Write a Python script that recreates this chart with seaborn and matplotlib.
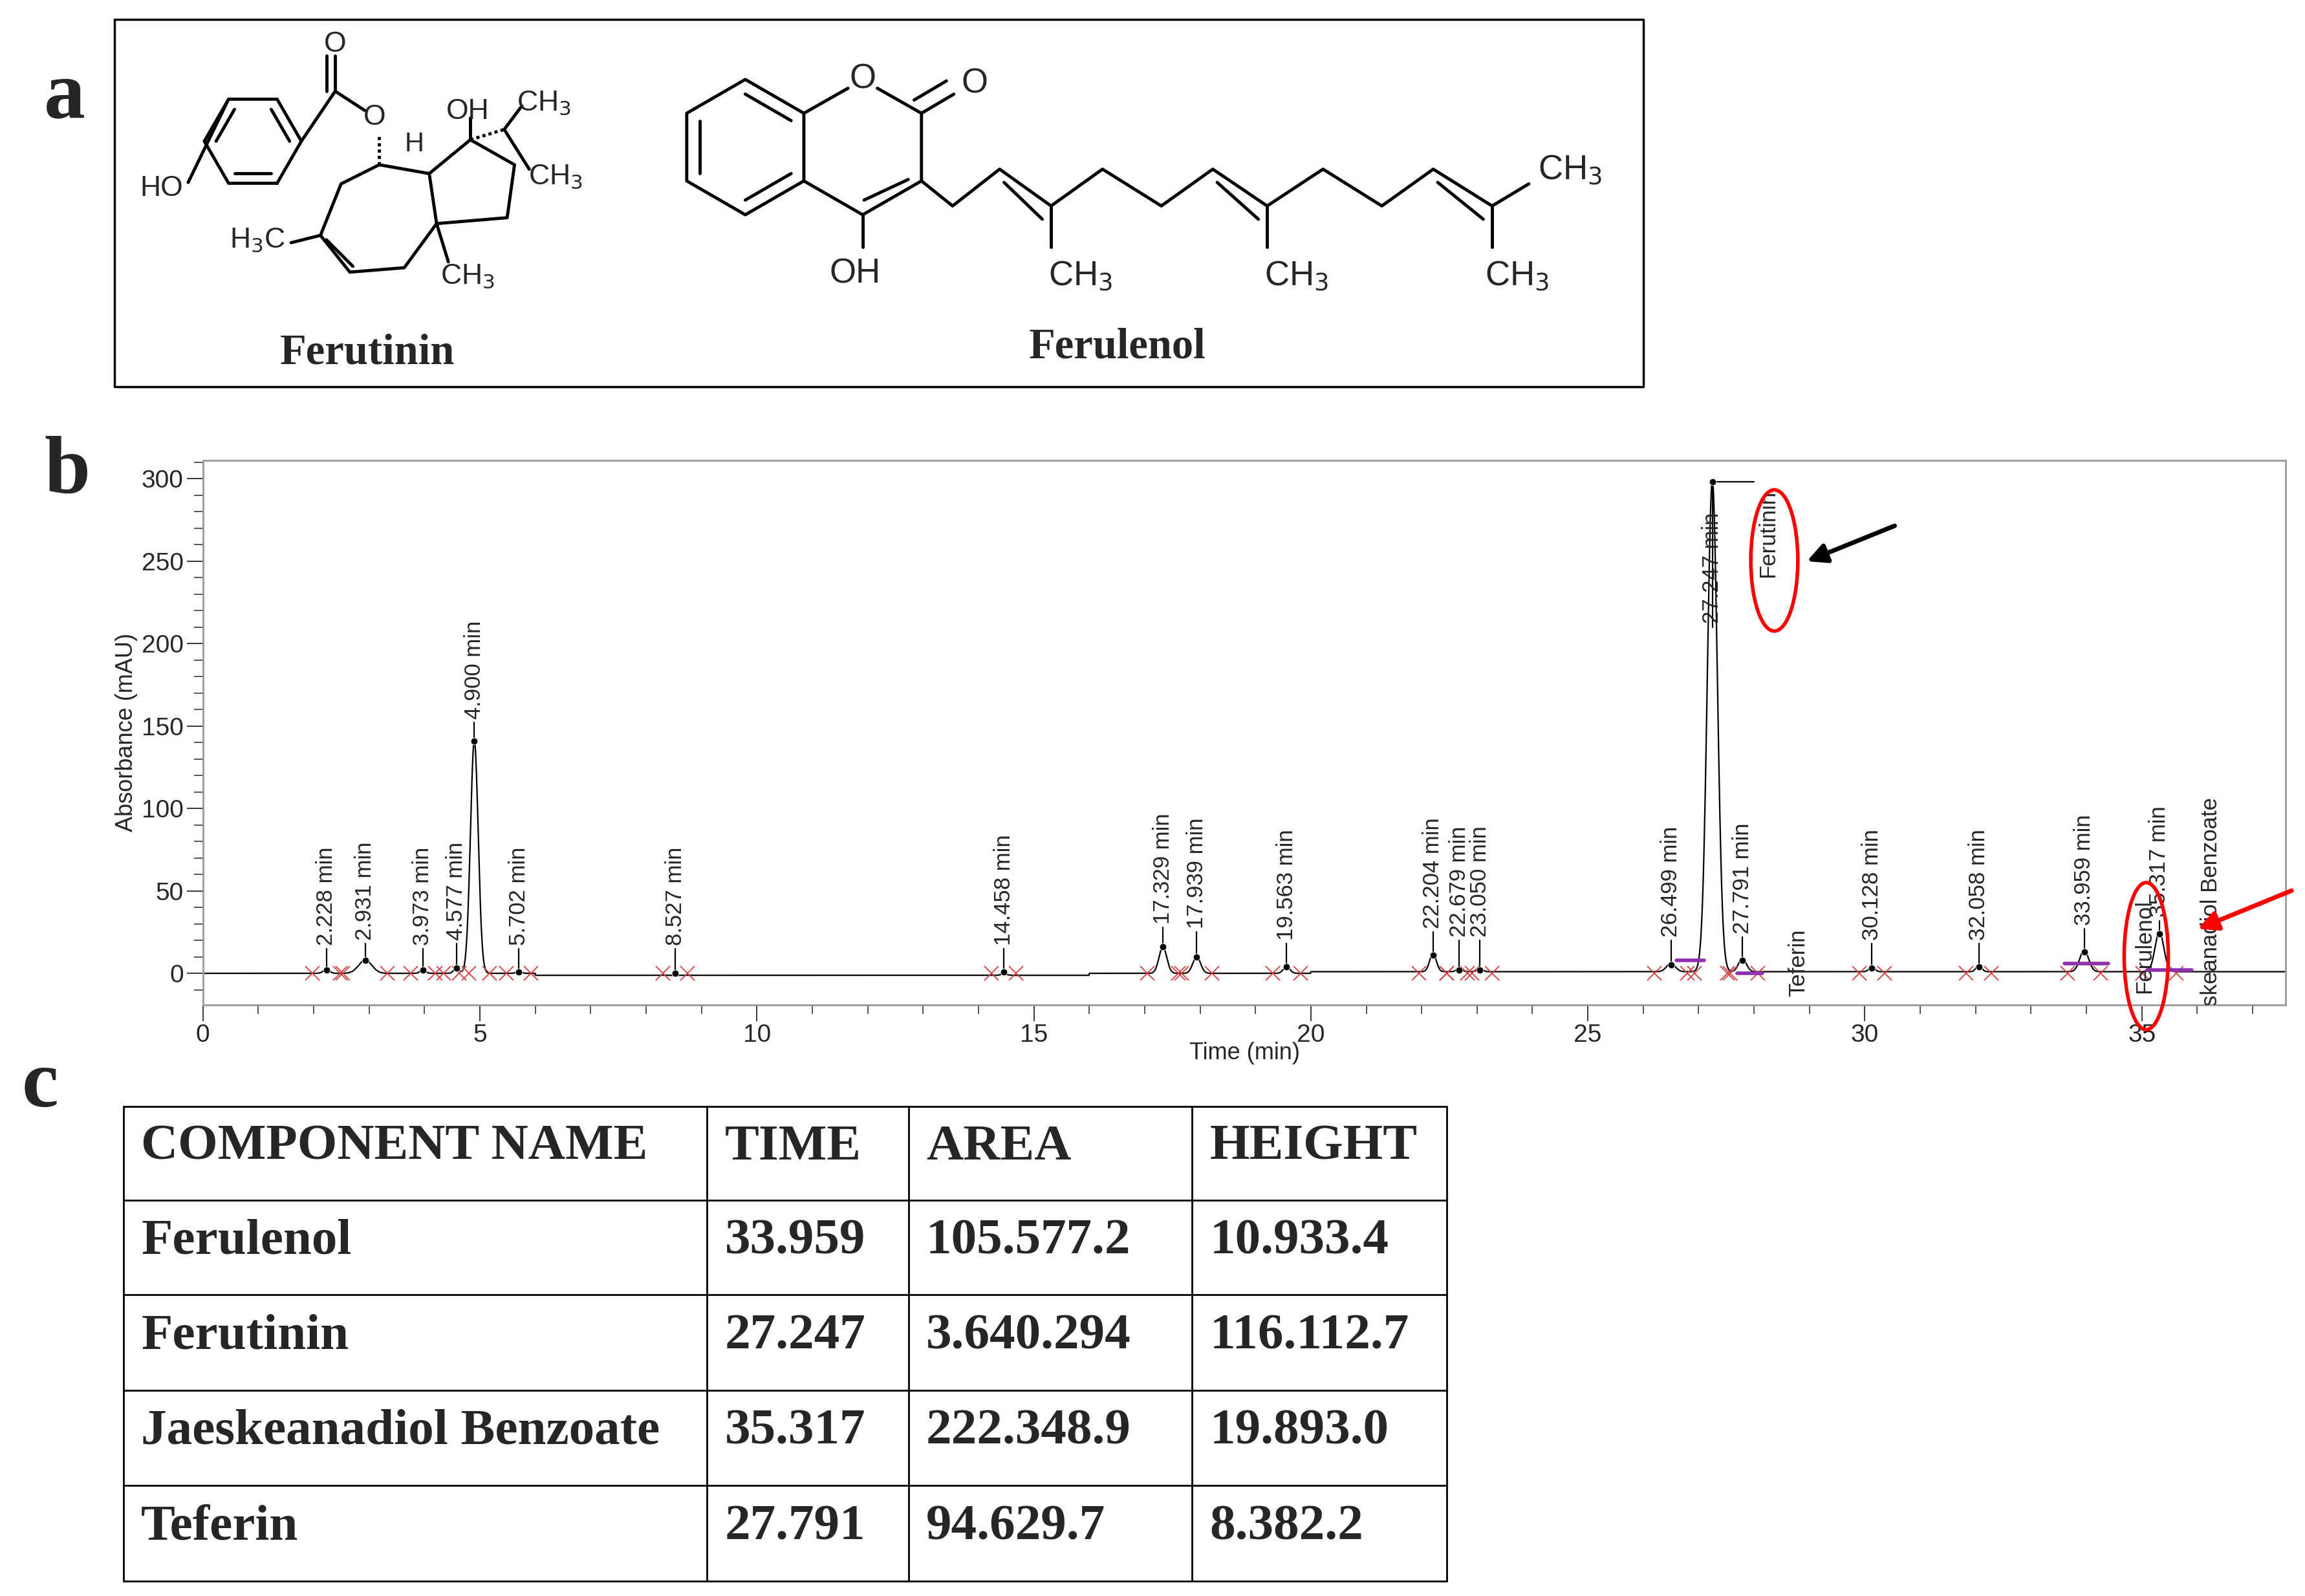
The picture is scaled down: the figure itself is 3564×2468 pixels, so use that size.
import numpy as np
import pandas as pd
import seaborn as sns
import matplotlib.pyplot as plt
from matplotlib.patches import Ellipse, FancyArrowPatch

# chromatogram peaks (retention time in min, height in mAU)
peak_times = [2.228, 2.931, 3.973, 4.577, 4.900, 5.702, 8.527, 14.458, 17.329, 17.939,
              19.563, 22.204, 22.679, 23.050, 26.499, 27.247, 27.791, 30.128, 32.058, 33.959, 35.317]
peak_heights = [2, 8, 2, 3, 141, 1, 0, 1, 16, 10, 4, 11, 2, 2, 5, 298, 8, 3, 4, 13, 24]
peak_widths = [0.06, 0.12, 0.05, 0.05, 0.07, 0.05, 0.05, 0.05, 0.07, 0.07,
               0.06, 0.06, 0.05, 0.05, 0.08, 0.09, 0.07, 0.05, 0.05, 0.08, 0.08]
label_base = [15, 18, 15, 18, 152, 15, 15, 15, 28, 25, 18, 25, 20, 20, 20, 210, 22, 18, 18, 27, 32]

names = ["Ferutinin", "Teferin", "Ferulenol", "Jaeskeanadiol Benzoate"]
name_x = [28.25, 28.8, 35.05, 36.25]
name_y = [240, -14, -12, -42]

table_cols = ["COMPONENT NAME", "TIME", "AREA", "HEIGHT"]
comp_names = ["Ferulenol", "Ferutinin", "Jaeskeanadiol Benzoate", "Teferin"]
comp_time = ["33.959", "27.247", "35.317", "27.791"]
comp_area = ["105.577.2", "3.640.294", "222.348.9", "94.629.7"]
comp_height = ["10.933.4", "116.112.7", "19.893.0", "8.382.2"]

sns.set_style("white")
plt.rcParams['font.family'] = ['Liberation Sans', 'DejaVu Sans']
W, H = 1568, 1085
fig = plt.figure(figsize=(35.64, 24.68), dpi=100)

# overlay in reference pixel coordinates for drawings and the table
ov = fig.add_axes([0, 0, 1, 1])
ov.set_xlim(0, W); ov.set_ylim(H, 0); ov.axis("off")
serif = "Liberation Serif"
for lab, (x, y) in zip("abc", [(30, 80), (30, 335), (15, 752)]):
    ov.text(x, y, lab, fontsize=92, fontweight="bold", family=serif, va="baseline")

# panel a frame
ov.plot([78, 1118, 1118, 78, 78], [13, 13, 263, 263, 13], color="black", lw=2.5)
lw = 3.5
def bonds(pts, closed=False, **kw):
    p = np.array(pts + ([pts[0]] if closed else []), float)
    ov.plot(p[:, 0], p[:, 1], color="black", lw=lw, solid_capstyle="round", **kw)
def hexa(cx, cy, r, rot=0):
    a = np.deg2rad(np.arange(6) * 60 + 30 + rot)
    return [(cx + r * np.cos(t), cy + r * np.sin(t)) for t in a]
chem_fs = 38
# ferulenol
bz = hexa(507, 100, 46)
bonds(bz, closed=True)
inner = hexa(507, 100, 36)
for i in (0, 2, 4):
    bonds([inner[i], inner[(i + 1) % 6]])
p_o = (bz[5][0] + 40, bz[5][1] - 23)
p_c2 = (p_o[0] + 40, p_o[1] + 23)
p_c3 = (p_c2[0], p_c2[1] + 46)
p_c4 = (bz[0][0] + 40, bz[0][1] + 23)
bonds([bz[5], (p_o[0] - 10, p_o[1] + 6)])
bonds([(p_o[0] + 10, p_o[1] + 6), p_c2, p_c3, p_c4, bz[0]])
bonds([(p_c3[0] - 9, p_c3[1] - 1), (p_c4[0] + 1, p_c4[1] - 10)])
ov.text(p_o[0], p_o[1], "O", fontsize=chem_fs, ha="center", va="center")
bonds([p_c2, (p_c2[0] + 22, p_c2[1] - 13)]); bonds([(p_c2[0] - 5, p_c2[1] - 9), (p_c2[0] + 17, p_c2[1] - 22)])
ov.text(p_c2[0] + 36, p_c2[1] - 20, "O", fontsize=chem_fs, ha="center", va="center")
bonds([p_c4, (p_c4[0], p_c4[1] + 22)])
ov.text(p_c4[0] - 5, p_c4[1] + 40, "OH", fontsize=chem_fs, ha="center", va="center")
chain = [p_c3, (648, 140), (680, 115), (715, 140), (750, 115), (790, 140), (825, 115),
         (862, 140), (900, 115), (940, 140), (975, 115), (1015, 140)]
bonds(chain)
for i in (2, 6, 10):
    a, b = np.array(chain[i]), np.array(chain[i + 1])
    bonds([a + (3, 9), b + (-6, 9)])
for cx in (715, 862):
    bonds([(cx, 140), (cx, 168)])
    ov.text(cx + 20, 188, "CH$_3$", fontsize=chem_fs, ha="center", va="center")
bonds([(1015, 140), (1040, 125)]); ov.text(1068, 116, "CH$_3$", fontsize=chem_fs, ha="center", va="center")
bonds([(1015, 140), (1015, 168)]); ov.text(1032, 188, "CH$_3$", fontsize=chem_fs, ha="center", va="center")
ov.text(760, 236, "Ferulenol", fontsize=48, fontweight="bold", family=serif, ha="center", va="center")
# ferutinin
bz2 = hexa(172, 96, 33, rot=30)
bonds(bz2, closed=True)
inn2 = hexa(172, 96, 25, rot=30)
for i in (0, 2, 4):
    bonds([inn2[i], inn2[(i + 1) % 6]])
bonds([bz2[3], (128, 124)]); ov.text(110, 128, "HO", fontsize=32, ha="center", va="center")
bonds([bz2[5], (228, 62), (248, 75)]); bonds([(228, 62), (228, 38)]); bonds([(222, 62), (222, 38)])
ov.text(228, 30, "O", fontsize=32, ha="center", va="center")
ov.text(255, 80, "O", fontsize=32, ha="center", va="center")
ring7 = [(258, 112), (232, 125), (218, 160), (238, 185), (275, 182), (297, 152), (292, 118)]
bonds(ring7, closed=True)
bonds([(258, 112), (258, 92)], ls=(0, (1, 1)))
bonds([(222, 163), (240, 181)])
bonds([(218, 160), (198, 165)]); ov.text(175, 163, "H$_3$C", fontsize=32, ha="center", va="center")
ring5 = [(292, 118), (320, 95), (350, 112), (345, 148), (297, 152)]
bonds(ring5)
ov.text(282, 98, "H", fontsize=30, ha="center", va="center")
bonds([(320, 95), (320, 80)]); ov.text(318, 76, "OH", fontsize=32, ha="center", va="center")
bonds([(320, 95), (343, 88)], ls=(0, (1, 1))); bonds([(343, 88), (355, 72)]); bonds([(343, 88), (360, 115)])
ov.text(370, 70, "CH$_3$", fontsize=32, ha="center", va="center")
ov.text(378, 120, "CH$_3$", fontsize=32, ha="center", va="center")
bonds([(297, 152), (305, 178)]); ov.text(318, 188, "CH$_3$", fontsize=32, ha="center", va="center")
ov.text(250, 240, "Ferutinin", fontsize=48, fontweight="bold", family=serif, ha="center", va="center")

# panel b chromatogram
ax = fig.add_axes([138 / W, 1 - 683 / H, (1555 - 138) / W, (683 - 313) / H])
t = np.linspace(0, 37.6, 6000)
sig = np.zeros_like(t)
for pt, ph, pw in zip(peak_times, peak_heights, peak_widths):
    sig += ph * np.exp(-0.5 * ((t - pt) / pw) ** 2)
sig -= np.where((t > 6) & (t < 16), 1.2, 0) + np.where(t > 20, -1.0, 0)
df = pd.DataFrame({"time": t, "abs": sig})
sns.lineplot(data=df, x="time", y="abs", color="black", lw=1.6, ax=ax)
pk = pd.DataFrame({"time": peak_times, "abs": peak_heights})
sns.scatterplot(data=pk, x="time", y="abs", color="black", s=60, zorder=5, ax=ax)
for pt, ph, pw, lb in zip(peak_times, peak_heights, peak_widths, label_base):
    ax.plot([pt, pt], [ph, lb], color="black", lw=1.6)
    ax.text(pt, lb + 2, f"{pt:.3f} min", rotation=90, ha="center", va="bottom", fontsize=25)
    for xx in (pt - 2.5 * pw - 0.1, pt + 2.5 * pw + 0.1):
        ax.plot(xx, 0, marker="x", color="#d04040", ms=16, mew=1.3)
ax.plot([27.25, 28.0], [298, 298], color="black", lw=1.6)
for x0, x1, y in [(26.6, 27.1, 8), (27.7, 28.15, 0), (33.6, 34.4, 6), (35.1, 35.9, 2)]:
    ax.plot([x0, x1], [y, y], color="#9030b0", lw=4)
for nm, nx, ny in zip(names, name_x, name_y):
    ax.text(nx, ny, nm, rotation=90, ha="center", va="bottom", fontsize=25, clip_on=True)
ax.set_xlim(0, 37.6); ax.set_ylim(-19, 311)
ax.set_xticks(range(0, 36, 5)); ax.set_xticks(np.arange(0, 38, 1), minor=True)
ax.set_yticks(range(0, 301, 50)); ax.set_yticks(np.arange(-10, 311, 10), minor=True)
ax.tick_params(axis="both", which="major", labelsize=28, length=18, width=1.3, direction="out")
ax.tick_params(axis="both", which="minor", length=10, width=1.1, direction="out")
ax.tick_params(bottom=True, left=True, which="both")
ax.set_xlabel("Time (min)", fontsize=26, labelpad=-6)
ax.set_ylabel("Absorbance (mAU)", fontsize=26)
for s in ax.spines.values():
    s.set_color("#999999"); s.set_linewidth(2)

# annotations on top of the chromatogram
top = fig.add_axes([0, 0, 1, 1])
top.set_xlim(0, W); top.set_ylim(H, 0); top.axis("off"); top.patch.set_alpha(0)
top.add_patch(Ellipse((1207, 381), 32, 96, fill=False, ec="red", lw=4))
top.add_patch(Ellipse((1460, 650), 30, 100, fill=False, ec="red", lw=4))
top.add_patch(FancyArrowPatch((1290, 357), (1228, 382), arrowstyle="-|>", mutation_scale=45, color="black", lw=5))
top.add_patch(FancyArrowPatch((1560, 605), (1494, 632), arrowstyle="-|>", mutation_scale=45, color="red", lw=5))

# panel c table
xs = [84, 481, 618, 811, 984]
ys = [752, 816, 880, 945, 1010, 1075]
for y in ys:
    ov.plot([xs[0], xs[-1]], [y, y], color="black", lw=2)
for x in xs:
    ov.plot([x, x], [ys[0], ys[-1]], color="black", lw=2)
rows = [table_cols] + [list(r) for r in zip(comp_names, comp_time, comp_area, comp_height)]
for i, row in enumerate(rows):
    for j, cell in enumerate(row):
        ov.text(xs[j] + 12, (ys[i] + ys[i + 1]) / 2 - 4, cell, fontsize=57, fontweight="bold",
                family=serif, va="center", ha="left")

fig.savefig("out.png", dpi=100)
